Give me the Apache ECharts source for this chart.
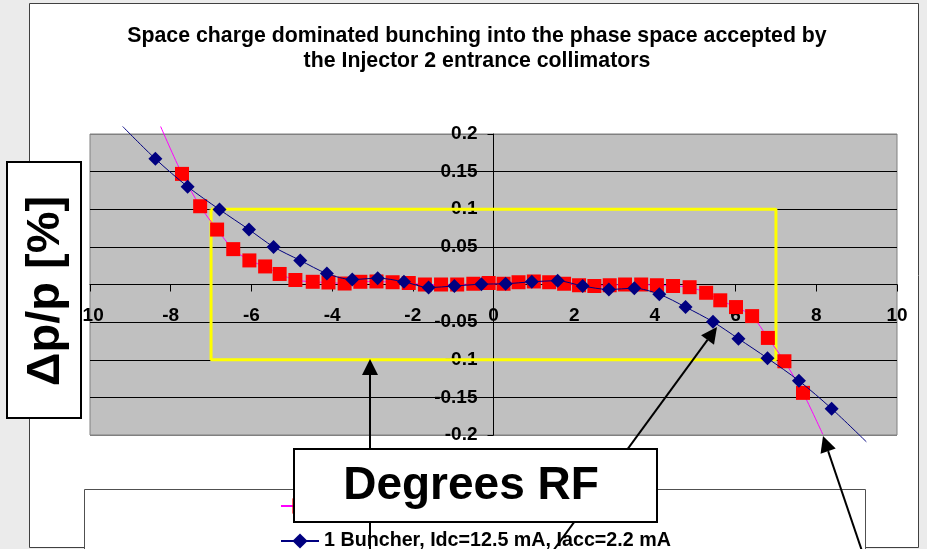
<!DOCTYPE html>
<html>
<head>
<meta charset="utf-8">
<script src="https://cdn.jsdelivr.net/npm/echarts@6/dist/echarts.min.js"></script>
<style>
html,body{margin:0;padding:0;background:#ebebeb;}
#chart{width:927px;height:549px;}
</style>
</head>
<body>
<div id="chart"></div>
<script>
// ---- data ----
const titleLines = ['Space charge dominated bunching into the phase space accepted by', 'the Injector 2 entrance collimators'];
const yAxisTitle = '\u0394p/p [%]';
const xAxisTitle = 'Degrees RF';

const redName = '2 Bunchers';
const redX = [-7.72,-7.27,-6.85,-6.45,-6.05,-5.66,-5.30,-4.91,-4.48,-4.09,-3.69,-3.30,-2.90,-2.50,-2.10,-1.70,-1.30,-0.90,-0.50,-0.12,0.25,0.62,1.00,1.38,1.75,2.12,2.50,2.88,3.26,3.66,4.05,4.45,4.86,5.27,5.62,6.01,6.41,6.80,7.21,7.67];
const redY = [0.147,0.104,0.073,0.047,0.032,0.024,0.014,0.006,0.0036,0.0027,0.0013,0.0036,0.004,0.003,0.002,0.000,0.000,0.000,0.001,0.002,0.001,0.003,0.004,0.003,0.001,-0.001,-0.002,-0.001,0.000,0.000,-0.001,-0.002,-0.0036,-0.011,-0.021,-0.030,-0.042,-0.071,-0.102,-0.144];
const redLineEnds = [[-8.25, 0.21], [8.16, -0.199]];

const bunName = '1 Buncher, Idc=12.5 mA, Iacc=2.2 mA';
const bunX = [-8.38,-7.58,-6.79,-6.06,-5.45,-4.79,-4.13,-3.50,-2.87,-2.22,-1.61,-0.97,-0.30,0.30,0.95,1.59,2.21,2.86,3.49,4.11,4.76,5.44,6.07,6.79,7.57,8.38];
const bunY = [0.167,0.130,0.0996,0.073,0.050,0.032,0.0146,0.0066,0.0084,0.0036,-0.004,-0.002,0.0004,0.001,0.0036,0.005,-0.002,-0.0066,-0.005,-0.013,-0.030,-0.0496,-0.072,-0.098,-0.128,-0.165];
const bunLineEnds = [[-9.19, 0.21], [9.24, -0.209]];

const acceptX = [-7, 7, 7, -7, -7];
const acceptY = [0.1, 0.1, -0.1, -0.1, 0.1];

// ---- build ----
const FONT = "'Liberation Sans', Arial, sans-serif";
function pts(xs, ys) { return xs.map((x, i) => [x, ys[i]]); }
function withEnds(xs, ys, ends) {
  return [{value: ends[0], symbol: 'none'}].concat(pts(xs, ys)).concat([{value: ends[1], symbol: 'none'}]);
}
function arrow(x0, y0, x1, y1) {
  const dx = x1 - x0, dy = y1 - y0, L = Math.hypot(dx, dy);
  const ux = dx / L, uy = dy / L, hl = 16, hw = 8;
  const bx = x1 - ux * hl, by = y1 - uy * hl;
  return [
    {type: 'line', z: 50, shape: {x1: x0, y1: y0, x2: bx, y2: by}, style: {stroke: '#000', lineWidth: 2}},
    {type: 'polygon', z: 50, shape: {points: [[x1, y1], [bx - uy * hw, by + ux * hw], [bx + uy * hw, by - ux * hw]]}, style: {fill: '#000'}}
  ];
}

const GRID = {left: 90, right: 30, top: 134, bottom: 114};
const W = 927, H = 549;
const X_MIN = -10, X_MAX = 10, Y_MIN = -0.2, Y_MAX = 0.2;
// place the axes through the origin (Excel style) by offsetting them inward
const gw = W - GRID.left - GRID.right, gh = H - GRID.top - GRID.bottom;
const yAxisOffset = -gw * (0 - X_MIN) / (X_MAX - X_MIN);
const xAxisOffset = -gh * (0 - Y_MIN) / (Y_MAX - Y_MIN);

const chart = echarts.init(document.getElementById('chart'));
const ySplitColors = ['#808080','#000','#000','#000','#000','#000','#000','#000','#808080'];

chart.setOption({
  animation: false,
  backgroundColor: '#ebebeb',
  title: {
    text: titleLines.join('\n'),
    left: 477, top: 24, textAlign: 'center', padding: 0,
    textStyle: {fontFamily: FONT, fontWeight: 'bold', fontSize: 21.3, lineHeight: 25, color: '#000'}
  },
  grid: Object.assign({show: true, backgroundColor: '#c0c0c0', borderColor: '#808080', borderWidth: 1}, GRID),
  xAxis: {
    type: 'value', min: X_MIN, max: X_MAX, interval: 2, offset: xAxisOffset,
    axisLine: {onZero: false, lineStyle: {color: '#000', width: 1}},
    axisTick: {show: true, length: 7, lineStyle: {color: '#000'}},
    splitLine: {show: false},
    axisLabel: {margin: 22, color: '#000', fontFamily: FONT, fontWeight: 'bold', fontSize: 19}
  },
  yAxis: {
    type: 'value', min: Y_MIN, max: Y_MAX, interval: 0.05, offset: yAxisOffset,
    axisLine: {onZero: false, lineStyle: {color: '#000', width: 1}},
    axisTick: {show: true, length: 6, lineStyle: {color: '#000'}},
    splitLine: {show: true, lineStyle: {color: ySplitColors, width: 1}},
    axisLabel: {margin: 16, color: '#000', fontFamily: FONT, fontWeight: 'bold', fontSize: 19,
      formatter: v => String(+v.toFixed(2))}
  },
  legend: {
    data: [redName, bunName], orient: 'vertical', left: 280, top: 496, height: 120, padding: 0, itemGap: 15,
    itemWidth: 38, itemHeight: 19, z: 4,
    textStyle: {fontFamily: FONT, fontWeight: 'bold', fontSize: 19.7, lineHeight: 20, color: '#000'}
  },
  series: [
    {name: 'acceptance', type: 'line', data: pts(acceptX, acceptY), symbol: 'none', silent: true, z: 1,
     lineStyle: {color: '#ffff00', width: 3}},
    {name: redName, type: 'line', data: withEnds(redX, redY, redLineEnds), smooth: 0.3, clip: false, z: 3,
     symbol: 'rect', symbolSize: 14, itemStyle: {color: '#ff0000'}, lineStyle: {color: '#ff00ff', width: 1}},
    {name: bunName, type: 'line', data: withEnds(bunX, bunY, bunLineEnds), smooth: 0.3, clip: false, z: 4,
     symbol: 'diamond', symbolSize: 14, itemStyle: {color: '#000080'}, lineStyle: {color: '#000080', width: 1}}
  ],
  graphic: [
    {type: 'rect', z: -10, shape: {x: 29.5, y: 3.5, width: 889, height: 544}, style: {fill: '#fff', stroke: '#404040', lineWidth: 1}},
    {type: 'rect', z: 3, shape: {x: 84.5, y: 489.5, width: 781, height: 80}, style: {fill: '#fff', stroke: '#505050', lineWidth: 1}},
  ].concat(arrow(370, 551, 370, 359))
   .concat(arrow(553, 551, 717, 327))
   .concat(arrow(862, 551, 823, 436))
   .concat([
    {type: 'rect', z: 100, shape: {x: 294, y: 449, width: 363, height: 73}, style: {fill: '#fff', stroke: '#000', lineWidth: 2}},
    {type: 'text', z: 101, x: 471, y: 486, style: {text: xAxisTitle, font: 'bold 46px ' + FONT, fill: '#000', textAlign: 'center', textVerticalAlign: 'middle'}},
    {type: 'rect', z: 100, shape: {x: 7, y: 162, width: 74, height: 256}, style: {fill: '#fff', stroke: '#000', lineWidth: 2}},
    {type: 'text', z: 101, x: 46, y: 291, rotation: Math.PI / 2, style: {text: yAxisTitle, font: 'bold 47px ' + FONT, fill: '#000', textAlign: 'center', textVerticalAlign: 'middle'}}
  ])
});
</script>
</body>
</html>
